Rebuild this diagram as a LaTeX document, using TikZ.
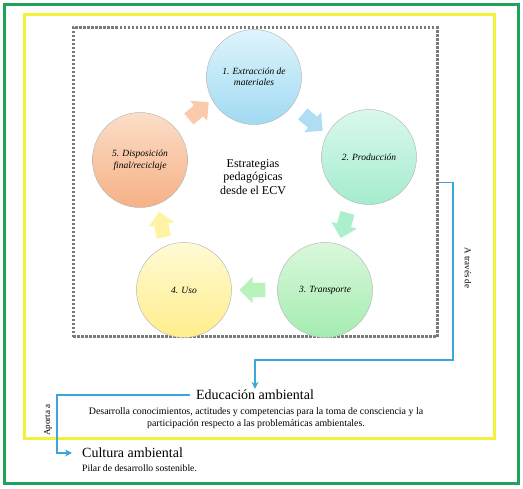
\documentclass[tikz,border=0pt]{standalone}
\usepackage{fontspec}
\setmainfont{Liberation Serif}
\usetikzlibrary{shapes.arrows,arrows.meta}
\definecolor{gbord}{HTML}{1FA35A}
\definecolor{ybord}{HTML}{F2F23A}
\definecolor{lblue}{HTML}{3AA6DA}
\definecolor{dgray}{HTML}{7A7A7A}
\begin{document}
\begin{tikzpicture}[x=1pt,y=-1pt,
  stage/.style={circle, minimum size=95pt, inner sep=0pt, draw=gray!55, line width=0.5pt,
    align=center, font=\itshape\fontsize{9.5}{11.5}\selectfont},
  flow/.style={single arrow, minimum height=26pt, text height=7pt, text depth=7pt,
    single arrow head extend=6pt, inner sep=0pt, draw=none},
  conn/.style={draw=lblue, line width=1.6pt, -{Stealth[length=7pt,width=7pt]}},
  lbl/.style={font=\fontsize{9}{10}\selectfont, inner sep=1pt}]
\useasboundingbox (0,0) rectangle (523,489);
\draw[gbord, line width=3pt] (4,5) rectangle (518,484);
\draw[ybord, line width=3pt] (24,15) rectangle (494,439);
\node[draw=dgray, line width=3pt, dash pattern=on 2.5pt off 1.5pt,
  minimum width=364pt, minimum height=309pt] (frame) at (255,182.5) {};
% stages
\node[stage, top color={rgb,255:red,222;green,244;blue,252}, bottom color={rgb,255:red,160;green,218;blue,242}] (s1) at (254,77) {1. Extracción de\\materiales};
\node[stage, top color={rgb,255:red,218;green,248;blue,236}, bottom color={rgb,255:red,164;green,236;blue,206}] (s2) at (369,157) {2. Producción};
\node[stage, top color={rgb,255:red,218;green,248;blue,220}, bottom color={rgb,255:red,164;green,236;blue,176}] (s3) at (325,290) {3. Transporte};
\node[stage, top color={rgb,255:red,255;green,250;blue,212}, bottom color={rgb,255:red,255;green,238;blue,140}] (s4) at (184,290) {4. Uso};
\node[stage, top color={rgb,255:red,251;green,222;blue,200}, bottom color={rgb,255:red,246;green,176;blue,134}] (s5) at (140,160) {5. Disposición\\final/reciclaje};
% flow arrows
\node[flow, fill={rgb,255:red,249;green,202;blue,172}, rotate=40] (a51) at (196,113) {};
\node[flow, fill={rgb,255:red,175;green,222;blue,244}, rotate=-40] (a12) at (310,120) {};
\node[flow, fill={rgb,255:red,172;green,239;blue,204}, rotate=-105] (a23) at (345,222) {};
\node[flow, fill={rgb,255:red,184;green,242;blue,188}, rotate=180] (a34) at (256,290) {};
\node[flow, fill={rgb,255:red,255;green,244;blue,166}, rotate=100] (a45) at (162,228) {};
% centre
\node[align=center, font=\fontsize{12}{13.5}\selectfont] (ctr) at (253,177) {Estrategias\\pedagógicas\\desde el ECV};
% bottom texts
\node[font=\fontsize{14}{16}\selectfont, inner xsep=6pt, inner ysep=1pt] (edu) at (255,395) {Educación ambiental};
\node[align=center, font=\fontsize{9.9}{11.5}\selectfont] (edudesc) at (256,418) {Desarrolla conocimientos, actitudes y competencias para la toma de consciencia y la\\participación respecto a las problemáticas ambientales.};
\node[anchor=west, font=\fontsize{14}{16}\selectfont, inner xsep=10pt, inner ysep=1pt] (cult) at (72,453) {Cultura ambiental};
\node[anchor=west, font=\fontsize{9.7}{11}\selectfont, inner sep=0pt] (cultdesc) at (82,468) {Pilar de desarrollo sostenible.};
% connectors
\coordinate (k1) at (453,360);
\coordinate (k2) at (57,420);
\draw[conn] (frame.east) -| (k1) -| (edu.north);
\draw[conn] (edu.west) -| (k2) |- (cult.west);
\node[lbl, rotate=-90] (l1) at (468,268) {A través de};
\node[lbl, rotate=90] (l2) at (48,420) {Aporta a};
\end{tikzpicture}
\end{document}
